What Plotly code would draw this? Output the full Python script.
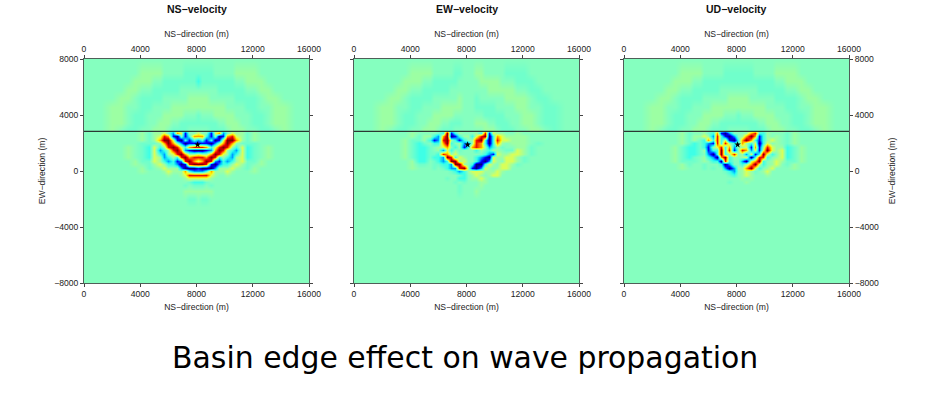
import plotly.graph_objects as go

x_cells = [0,1200,2000,2600,3100,3600,4100,4600, 5000,5400,5700,6000,6300, 6600,6900,7200,7500,7800, 8100,
           8400,8700,9000,9300,9600, 9900,10200,10500,10800,11200, 11600,12100,12600,13100,13600,14200,15000,16000]
y_cells = [8000,7000,6400,5800,5200,4600,4000,3400,2900,2750,2500,2250,2000,1750,1500,1250,
           1000,750,500,250,0,-250,-500,-750,-1000,-1400,-2000,-2600,-3400,-4500,-6000,-8000]
x_ticks = [0,4000,8000,12000,16000]
y_ticks = [-8000,-4000,0,4000,8000]
level_values = {'d':-1,'c':-.75,'b':-.5,'a':-.2,'n':-.06,'.':0,'p':.06,'1':.22,'2':.5,'3':.75,'4':1}
basin_x = [0,16000]
basin_y = [2830,2830]
star_x = [8080]
star_y = [1880]
panel_titles = ["NS\u2212velocity","EW\u2212velocity","UD\u2212velocity"]

ns_rows = [
"........ ..... ..... . ..... ..... ........",
"......pp pp... ..nnn n nnn.. ...pp pp......",
".....ppp ..nnn nnnnn a nnnnn nnn.. ppp.....",
"....pp.. nnnnn n.... . ....n nnnnn ..pp....",
"...pp.nn nn... ...pp p pp... ...nn nn.pp...",
"..pp..nn ....p ppppp p ppppp p.... nn..pp..",
"..pp.nn. ..ppp pp... n ...pp ppp.. .nn.pp..",
"..pp.nn. .ppp. .nnnn n nnnn. .ppp. .nn.pp..",
"..p.nn.. ppp.n nnn.. . ..nnn n.ppp ..nn.p..",
"......pn pp1nb 21c.. 1 ..c12 bn1pp np......",
"......pn p132c d.ca2 2 2ac.d c231p np......",
"......pn p2441 cdaca b acadc 1442p np......",
"......nn np242 .bdcc c ccdb. 242pn nn......",
"....p.na 1ap34 31a23 3 32a13 43pa1 an.p....",
"....p.na 1bap3 42bcd d dcb24 3pab1 an.p....",
"....p.na 1abp1 342pp 1 pp243 1pba1 an.p....",
"....p.na 1pbap a3423 3 3243a pabp1 an.p....",
".....pnn 1paba cb342 1 243bc abap1 nnp.....",
".....p.n p1paa bdc34 4 43cdb aap1p n.p.....",
"......pn .p1pp pbddd c dddbp pp1p. np......",
"......p. ..p1p pp2ab b ba2pp p1p.. .p......",
"........ ...p. .p133 3 331p. .p... ........",
"........ ..... ..p11 1 11p.. ..... ........",
"........ ..... ...na a an... ..... ........",
"........ ..... ..n.n n n.n.. ..... ........",
"........ ..... ..ppp p ppp.. ..... ........",
"........ ..... ...nn . nn... ..... ........",
"........ ..... ..... . ..... ..... ........",
"........ ..... ..... . ..... ..... ........",
"........ ..... ..... . ..... ..... ........",
"........ ..... ..... . ..... ..... ........",
"........ ..... ..... . ..... ..... ........",
]
ew_rows = [
"........ ..... ..... . ..... ..... ........",
"......pp pp... ..nn. . .pp.. ...nn nn......",
".....ppp ..nnn nnn.. . ..ppp pp... nnn.....",
"....pp.. nnnnn n.... . ....p ppppp ..nn....",
"...pp.nn nn... ...p. . .n... ...pp pp.nn...",
"..pp..nn ....p pppp. . .nnnn n.... pp..nn..",
"..pp.nn. ..ppp pp... . ...nn nnn.. .pp.nn..",
"..pp.nn. .ppp. .nnn. . .ppp. .nnn. .pp.nn..",
"..p.nn.. ppp.n nn... . ...pp p.nnn ..pp.n..",
"......p. ...na 4cap. . .pa3c 1pp.. p.......",
"......pn ppab2 4dcap p a134d a21pp pp......",
".....pnn pacb3 4paca . p34ad a311p pp......",
".....pna n.aa2 4a.pb b p32ad a2p.p pp.n....",
".....pna an.p1 2.apc a 232pb apn.. ppn.....",
".....pna an.pb 1apn. . .apna pp.nn 1pn.....",
".....pna anna3 2p1.. . ..nab c1pp1 1pn.....",
".....pna anaab 43a1p . .abcd 1pp11 pn......",
"......pa a.nab a44p1 . .acdb 1p.11 pn......",
"......pn n.nna ab44p . adda1 p.11p n.......",
"......p. ..n.n abb34 p cdb1p .p11. ........",
"........ ..... .naba p 111pp p1p.. ........",
"........ ..... ...na . p1p.p 11... ........",
"........ ..... n..aa . pp1p. ..... ........",
"........ ..... ..n.n . ..pp. ..... ........",
"........ ..... ...n. . ..p.. ..... ........",
"........ ..... ...n. . .p... ..... ........",
"........ ..... ..... . ..... ..... ........",
"........ ..... ..... . ..... ..... ........",
"........ ..... ..... . ..... ..... ........",
"........ ..... ..... . ..... ..... ........",
"........ ..... ..... . ..... ..... ........",
"........ ..... ..... . ..... ..... ........",
]
ud_rows = [
"........ ..... ..... . ..... ..... ........",
"......pp pp... ..nnn n nnn.. ...pp pp......",
".....ppp ..nnn nnnnn n nnnnn nnn.. ppp.....",
"....pp.. nnnnn n.... . ....n nnnnn ..pp....",
"...pp.nn nn... ...pp p pp... ...nn nn.pp...",
"..pp..nn ....p ppppp p ppppp p.... nn..pp..",
"..pp.nn. ..ppp pp... n ...pp ppp.. .nn.pp..",
"..pp.nn. .ppp. .nnnn n nnnn. .ppp. .nn.pp..",
"..p.nn.. ppp.n nnn.. . ..nnn n.ppp ..nn.p..",
"......pn ..pna 2cdb. . .p23a ap... np......",
"......pn pp1pb 3acdb . p242c ap.p. np......",
"......pn pna2a 3a1cd a 242ac ap1p. np......",
"......pn anabc 3a3pa a 2pa1d a1.p. np......",
".....pna anacp 13a2b p p1c2c p31pp anp.....",
".....pna anpca a4a3c . 32b1c 141p1 anp.....",
".....pna an.bd a4ap3 . pb1ca 41a.1 anp.....",
".....pna n.pab d24ap . p1da3 3a.p1 anp.....",
".....pnn n.p.a ad3a. . bd124 a.p1p nnp.....",
"......pn ..n.. .adb. . ap241 a.p1. np......",
"......p. ..n.n ..bdb p p241a .p1.. .p......",
"........ ..... ..nab . p1pn. p1... ........",
"........ ..... ...na . p1p.. .p... ........",
"........ ..... ..... . p.p.. ..... ........",
"........ ..... ...n. . .p... ..... ........",
"........ ..... ..... . ..... ..... ........",
"........ ..... ..... . ..... ..... ........",
"........ ..... ..... . ..... ..... ........",
"........ ..... ..... . ..... ..... ........",
"........ ..... ..... . ..... ..... ........",
"........ ..... ..... . ..... ..... ........",
"........ ..... ..... . ..... ..... ........",
"........ ..... ..... . ..... ..... ........",
]

W, H = 940, 395
panels_px = [(84,309),(354,579),(624,849)]
top_px, bottom_px = 59, 283
colorscale = [[0,"#00007f"],[.125,"#0000ff"],[.28,"#00bfff"],[.38,"#30ffee"],
              [.5,"#85ffbf"],[.62,"#e0ff50"],[.68,"#ffee00"],[.8,"#ff6a00"],[.89,"#e80000"],[1,"#7f0000"]]
font = "Liberation Sans"
tf = dict(family=font, size=8.6, color="#222")
frame = "#4f5f58"

def decode(rows):
    out = []
    for r in rows:
        s = r.replace(" ","")
        assert len(s) == len(x_cells), r
        out.append([level_values[c] for c in s])
    assert len(out) == len(y_cells)
    return out

fig = go.Figure()
layout = {}
for i, rows in enumerate([ns_rows, ew_rows, ud_rows]):
    k = i+1
    xn, yn, tn = ("x" if k==1 else f"x{k}"), ("y" if k==1 else f"y{k}"), f"x{k+3}"
    fig.add_trace(go.Heatmap(x=x_cells, y=y_cells, z=decode(rows), zmin=-1, zmax=1, colorscale=colorscale,
                             zsmooth="best", showscale=False, xaxis=xn, yaxis=yn, hoverinfo="skip"))
    fig.add_trace(go.Scatter(x=basin_x, y=basin_y, mode="lines", line=dict(color="#2b3a34", width=1.4),
                             xaxis=tn, yaxis=yn, showlegend=False))
    fig.add_trace(go.Scatter(x=star_x, y=star_y, mode="markers", marker=dict(symbol="star", size=5, color="black"),
                             xaxis=xn, yaxis=yn, showlegend=False))
    l, r = panels_px[i]
    dom = [l/W, r/W]
    common = dict(range=[0,16000], tickvals=x_ticks, tickformat="d", ticks="outside", ticklen=3, tickwidth=1,
                  tickcolor="#444", tickfont=tf, showgrid=False, zeroline=False, showline=True, automargin=False,
                  linecolor=frame, linewidth=1)
    layout[f"xaxis{'' if k==1 else k}"] = dict(domain=dom, anchor=yn, side="bottom",
                  title=dict(text="NS\u2212direction (m)", font=tf, standoff=5), **common)
    layout[f"xaxis{k+3}"] = dict(overlaying=xn, anchor=yn, side="top",
                  title=dict(text="NS\u2212direction (m)", font=tf, standoff=4), **common)
    ya = dict(domain=[(H-bottom_px)/H,(H-top_px)/H], anchor=xn, range=[-8000,8000], tickvals=y_ticks, tickformat="d",
              ticks="outside", ticklen=3, tickwidth=1, tickcolor="#444", tickfont=tf, showgrid=False, zeroline=False,
              showline=True, linecolor=frame, linewidth=1, mirror="ticks", automargin=False)
    if k==1:
        ya["title"] = dict(text="EW\u2212direction (m)", font=tf, standoff=7)
    if k==2:
        ya["showticklabels"] = False
    if k==3:
        ya["side"] = "right"
        ya["title"] = dict(text="EW\u2212direction (m)", font=tf, standoff=10)
    layout[f"yaxis{'' if k==1 else k}"] = ya

anns = [dict(text=f"<b>{t}</b>", x=(p[0]+p[1])/2/W, y=1-8.5/H, xref="paper", yref="paper", showarrow=False,
             xanchor="center", yanchor="middle", font=dict(family=font, size=10.5, color="#111"))
        for t,p in zip(panel_titles, panels_px)]
anns.append(dict(text="Basin edge effect on wave propagation", x=464.5/W, y=1-357/H, xref="paper", yref="paper",
                 showarrow=False, xanchor="center", yanchor="middle", font=dict(family="DejaVu Sans", size=29.9, color="black")))
fig.update_layout(width=W, height=H, margin=dict(l=0,r=0,t=0,b=0), paper_bgcolor="white", plot_bgcolor="#85ffbf",
                  showlegend=False, annotations=anns, **layout)
fig.write_html("out.html", config={"displayModeBar": False},
               post_script="document.body.style.margin='0';document.documentElement.style.overflow='hidden';")
